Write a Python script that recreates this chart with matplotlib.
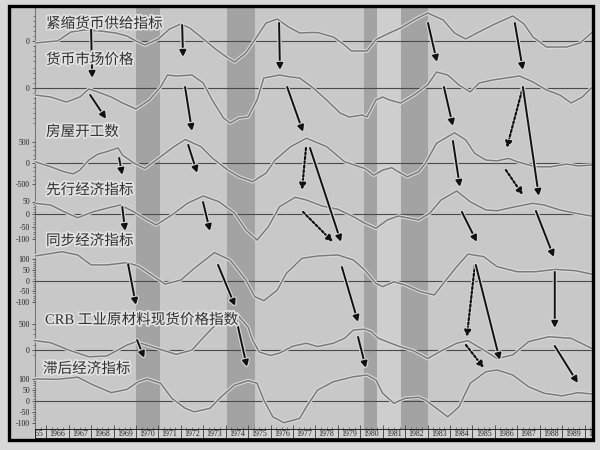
import matplotlib
matplotlib.use('Agg')
import numpy as np
import matplotlib.pyplot as plt
import matplotlib.patheffects as pe
from matplotlib.patches import ConnectionPatch, Rectangle
from matplotlib.ticker import FixedLocator, MultipleLocator

plt.rcParams['font.family'] = ['Liberation Serif', 'Noto Sans CJK SC', 'DejaVu Sans']

# ---- data ----
labels = ['紧缩货币供给指标', '货币市场价格', '房屋开工数', '先行经济指标',
          '同步经济指标', 'CRB 工业原材料现货价格指数', '滞后经济指标']

yrs_money = [1965.5, 1966.2, 1966.5, 1967.1, 1967.7, 1968.4, 1969.1, 1969.6, 1970.0, 1970.4,
             1971.0, 1971.5, 1972.0, 1972.4, 1972.9, 1973.6, 1974.1, 1974.4, 1974.9, 1975.2,
             1975.8, 1976.3, 1976.8, 1977.3, 1977.8, 1978.1, 1978.8, 1979.3, 1979.6, 1980.3,
             1980.7, 1981.3, 1981.8, 1982.4, 1983.0, 1983.7, 1984.2, 1984.7, 1985.2, 1986.0,
             1986.8, 1987.3, 1987.7, 1988.3, 1989.2, 1989.8, 1990.3]
money = [-2, -0.5, 0, 9, 11, 10, 8, 5, 0, -4, 2, 12, 17, 13, 4, -9, -17, -21, -12, -2,
         18, 22, 14, 8, 8.5, 8.5, 4, -4, -10, -10, 1.5, 8, 13, 21, 28, 21, 8, 2, 8, 17,
         25, 17, 4, -6, -6, -2, 8]

yrs_rate = [1965.5, 1966.2, 1966.9, 1967.5, 1967.9, 1968.3, 1968.9, 1969.4, 1970.0, 1970.6,
            1971.1, 1971.4, 1971.8, 1972.5, 1973.0, 1973.4, 1973.9, 1974.2, 1974.6, 1975.0,
            1975.4, 1975.7, 1976.4, 1976.9, 1977.3, 1977.9, 1978.5, 1979.1, 1979.5, 1980.1,
            1980.3, 1980.7, 1981.0, 1981.3, 1981.8, 1982.4, 1983.0, 1983.4, 1983.9, 1984.4,
            1984.9, 1985.3, 1985.9, 1986.5, 1987.1, 1987.7, 1988.3, 1988.9, 1989.4, 1989.9, 1990.3]
rate = [-7, -9, -14, -9, -1, -4, -9, -15, -21, -12, 1, 13, 12, 13, 5, -12, -30, -35, -30, -29,
        -12, 10, 13, 11, 10, 0, -12, -25, -29, -27, -29, -12, -9, -12, -15, -7, 3, 16, 13, 3,
        -4, 5, 8, 10, 12, 6, -2, -7, -15, -9, 0]

yrs_housing = [1965.5, 1966.2, 1966.8, 1967.2, 1967.5, 1967.9, 1968.3, 1968.7, 1969.2, 1969.4,
               1969.9, 1970.4, 1971.1, 1971.7, 1972.2, 1972.9, 1973.4, 1974.1, 1974.6, 1975.2,
               1975.8, 1976.2, 1976.9, 1977.6, 1978.5, 1979.3, 1980.2, 1980.6, 1981.0, 1981.4,
               1981.7, 1982.1, 1982.6, 1982.9, 1983.4, 1984.2, 1984.7, 1985.1, 1985.6, 1986.1,
               1986.6, 1987.0, 1987.8, 1988.5, 1989.2, 1989.7, 1990.3]
housing = [30, -90, -210, -260, -170, 70, 210, 270, 360, 190, 0, -130, 150, 390, 560, 390, 120,
           -170, -330, -445, -240, 70, 390, 590, 390, 30, -130, -290, -170, -110, -210, -330,
           -210, -10, 470, 720, 550, 230, 70, 50, 110, 30, -90, -90, -25, -70, -50]

yrs_leading = [1965.5, 1966.2, 1966.8, 1967.4, 1968.1, 1968.7, 1969.3, 1969.9, 1970.5, 1970.9,
               1971.6, 1972.3, 1973.0, 1973.7, 1974.4, 1974.9, 1975.4, 1975.9, 1976.4, 1977.1,
               1977.6, 1978.3, 1979.0, 1979.7, 1980.2, 1980.7, 1981.2, 1981.7, 1982.2, 1982.6,
               1983.1, 1983.6, 1984.3, 1984.9, 1985.6, 1986.1, 1986.8, 1987.7, 1988.2, 1988.9,
               1989.6, 1990.3]
leading = [43, 36, 9, -15, 9, 23, 36, 9, -24, -44, -4, 43, 72, 49, 3, -64, -104, -51, 29, 67,
           56, 32, 19, -11, -37, -57, -24, -8, -17, -24, 3, 56, 92, 49, 16, 13, 27, 43, 36, 16,
           3, -8]

yrs_coincident = [1965.5, 1966.7, 1967.4, 1968.0, 1968.7, 1969.6, 1970.1, 1970.8, 1971.3, 1972.0,
                  1972.6, 1973.5, 1974.2, 1974.9, 1975.3, 1975.7, 1976.3, 1976.7, 1977.4, 1978.1,
                  1979.0, 1979.7, 1980.2, 1980.7, 1981.0, 1981.5, 1982.0, 1982.7, 1983.3, 1983.7,
                  1984.3, 1984.8, 1985.5, 1986.1, 1987.0, 1987.8, 1988.7, 1989.6, 1990.3]
coincident = [116, 136, 121, 74, 74, 85, 69, 19, -16, 3, 58, 132, 97, 3, -75, -94, -44, 34, 105,
              116, 121, 97, 50, -13, -28, -5, -20, -52, -67, -13, 66, 125, 113, 66, 42, 42, 53,
              47, 31]

yrs_crb = [1965.5, 1966.2, 1967.0, 1967.9, 1968.7, 1969.6, 1970.0, 1970.8, 1971.8, 1972.5,
           1972.9, 1973.4, 1974.0, 1974.5, 1975.0, 1975.2, 1975.5, 1976.0, 1976.4, 1977.0,
           1977.6, 1978.1, 1978.8, 1979.3, 1979.7, 1980.2, 1980.5, 1980.8, 1981.7, 1982.4,
           1983.0, 1983.6, 1984.3, 1984.8, 1985.5, 1986.1, 1986.8, 1987.5, 1988.4, 1989.4, 1990.3]
crb = [180, 140, 0, -130, -115, 95, 160, 50, -85, 0, 190, 420, 615, 690, 440, 190, -40, -105,
       -60, 75, 130, 65, 130, 225, 385, 400, 350, 225, 75, -20, -165, -20, 130, 180, 0, -165,
       -95, 160, 255, 225, 35]

yrs_lagging = [1965.5, 1966.5, 1967.4, 1968.1, 1968.9, 1969.6, 1970.1, 1970.5, 1971.1, 1971.6,
               1972.2, 1972.6, 1973.3, 1973.8, 1974.4, 1975.0, 1975.4, 1975.7, 1976.1, 1976.6,
               1977.3, 1977.6, 1978.1, 1978.8, 1979.7, 1980.3, 1980.7, 1981.0, 1981.5, 1982.0,
               1982.6, 1982.9, 1983.4, 1983.9, 1984.4, 1984.9, 1985.6, 1986.1, 1986.8, 1987.5,
               1988.2, 1989.0, 1989.7, 1990.3]
lagging = [100, 98, 108, 72, 37, 52, 87, 100, 80, 11, -35, -51, -35, 18, 72, 92, 80, 3, -74,
           -101, -81, -28, 49, 87, 110, 118, 95, 34, -12, 11, 16, 3, -35, -74, -28, 80, 133,
           141, 118, 64, 34, 22, 37, 31]

series_years = [yrs_money, yrs_rate, yrs_housing, yrs_leading, yrs_coincident, yrs_crb, yrs_lagging]
series_vals = [money, rate, housing, leading, coincident, crb, lagging]

panel_ticks = [[0], [0], [500, 0, -500], [50, 0, -50, -100], [100, 50, 0, -50, -100],
               [500, 0], [100, 50, 0, -50, -100]]

recessions = [(1970.0, 1971.05), (1974.05, 1975.3), (1980.15, 1980.75), (1981.8, 1983.0)]
year_cells = list(range(1965, 1991))

# turning-point arrows: (panel, year, value) -> (panel, year, value), dotted
arrows = [
    (0, 1968.0, 12, 1, 1968.05, 10, False),
    (0, 1972.06, 16, 1, 1972.1, 31, False),
    (0, 1976.38, 18, 1, 1976.42, 18, False),
    (1, 1967.96, -7, 2, 1968.67, 1050, False),
    (1, 1972.19, 1, 2, 1972.5, 760, False),
    (1, 1976.74, 1, 2, 1977.45, 740, False),
    (2, 1969.25, 120, 3, 1969.39, 156, False),
    (2, 1972.33, 430, 3, 1972.73, 164, False),
    (3, 1969.39, 28, 4, 1969.52, 233, False),
    (3, 1972.99, 48, 4, 1973.3, 233, False),
    (0, 1983.02, 18, 1, 1983.42, 26, False),
    (0, 1986.89, 18, 1, 1987.25, 18, False),
    (1, 1983.73, 1, 2, 1984.13, 880, False),
    (1, 1987.25, 1, 2, 1986.53, 357, True),
    (1, 1987.25, 1, 3, 1987.96, 72, False),
    (2, 1984.13, 524, 3, 1984.44, 108, False),
    (2, 1986.49, -167, 3, 1987.25, 76, True),
    (3, 1987.83, 12, 4, 1988.63, 111, False),
    (3, 1984.53, 8, 4, 1985.2, 182, False),
    (2, 1977.58, 357, 3, 1977.4, 96, True),
    (2, 1977.76, 357, 4, 1979.14, 182, False),
    (3, 1977.45, 8, 4, 1978.78, 182, True),
    (4, 1969.65, 78, 5, 1970.0, 865, False),
    (4, 1973.66, 74, 5, 1974.42, 846, False),
    (5, 1974.49, 558, 6, 1974.95, 155, False),
    (4, 1979.18, 64, 5, 1979.9, 538, False),
    (5, 1979.9, 250, 6, 1980.25, 150, False),
    (4, 1985.11, 74, 5, 1984.75, 250, True),
    (4, 1985.15, 74, 5, 1986.22, -192, False),
    (4, 1988.67, 41, 5, 1988.67, 423, False),
    (5, 1988.67, 77, 6, 1989.7, 81, False),
    (5, 1984.71, 96, 6, 1985.51, 150, True),
    (5, 1970.05, 192, 6, 1970.37, 196, False),
]

# ---- layout (pixels of the 600x450 picture) ----
W, H = 600, 450
X0, X1 = 1965.5, 1990.33
LEFT, RIGHT, TOP, BOTTOM = 35, 592, 8, 429

# zero line (px) and px per unit of every panel
panel_layout = [(41, 1.0), (88, 1.0), (163, 0.042), (214, 0.25), (280.7, 0.213),
                (350, 0.052), (400.7, 0.218)]
minor_ranges = [(-20, 25, 5), (-35, 20, 5), (-500, 500, 100), (-100, 50, 10),
                (-100, 100, 10), (-100, 500, 100), (-100, 100, 10)]
label_pos = [(46, 24), (46, 60), (46, 132), (46, 190), (46, 241), (45, 320), (43, 369)]


def px_rect(l, t, r, b):
    return [l / W, 1 - b / H, (r - l) / W, (b - t) / H]


fig = plt.figure(figsize=(6, 4.5), dpi=100, facecolor='#d8d8d8')
fig.add_artist(Rectangle((9 / W, 1 - 440 / H), (593 - 9) / W, (440 - 6) / H,
                         transform=fig.transFigure, facecolor='#c8c8c8',
                         edgecolor='none', zorder=-1))
fig.add_artist(Rectangle((9 / W, 1 - 440 / H), (593 - 9) / W, (440 - 6) / H,
                         transform=fig.transFigure, facecolor='none',
                         edgecolor='black', lw=2.4, zorder=6))

# background with recession bands
bg = fig.add_axes(px_rect(LEFT, TOP, RIGHT, BOTTOM))
bg.set_facecolor('#c8c8c8')
bg.set_xlim(X0, X1)
bg.set_ylim(0, 1)
for a, b in recessions:
    bg.axvspan(a, b, color='#a3a3a3', lw=0)
bg.axvspan(recessions[2][1], recessions[3][0], color='#cecece', lw=0)
for s in ['top', 'right', 'bottom']:
    bg.spines[s].set_visible(False)
bg.spines['left'].set_color('#777777')
bg.spines['left'].set_linewidth(0.8)
bg.set_yticks([])
bg.xaxis.set_major_locator(MultipleLocator(1))
bg.xaxis.set_minor_locator(MultipleLocator(0.25))
bg.tick_params(axis='x', which='major', direction='in', length=3, width=0.6,
               color='#444444', labelbottom=False)
bg.tick_params(axis='x', which='minor', direction='in', length=1.5, width=0.5, color='#555555')

# one axes per indicator, all on the same plot area
axes = []
for k, (zero, scale) in enumerate(panel_layout):
    ax = fig.add_axes(px_rect(LEFT, TOP, RIGHT, BOTTOM), facecolor='none')
    ax.set_xlim(X0, X1)
    ax.set_ylim((zero - BOTTOM) / scale, (zero - TOP) / scale)
    ax.axhline(0, color='#4a4a4a', lw=0.8)
    ax.plot(series_years[k], series_vals[k], color='#7a7a7a', lw=1.1,
            path_effects=[pe.Stroke(linewidth=2.6, foreground='#dcdcdc'), pe.Normal()])
    ax.set_xticks([])
    ax.set_yticks(panel_ticks[k])
    ax.set_yticklabels([str(t) for t in panel_ticks[k]], fontsize=5.6)
    lo, hi, step = minor_ranges[k]
    ax.yaxis.set_minor_locator(FixedLocator(np.arange(lo, hi + step / 2, step)))
    ax.tick_params(axis='y', which='major', length=2.5, width=0.6, color='#444444',
                   pad=1.2, labelcolor='#222222')
    ax.tick_params(axis='y', which='minor', length=1.5, width=0.5, color='#555555')
    for s in ax.spines.values():
        s.set_visible(False)
    axes.append(ax)

# year row
yr = fig.add_axes(px_rect(LEFT, BOTTOM, RIGHT, 438), facecolor='#d2d2d2')
yr.set_xlim(X0, X1)
yr.set_ylim(0, 1)
yr.set_xticks([])
yr.set_yticks([])
for s in yr.spines.values():
    s.set_color('#222222')
    s.set_linewidth(0.7)
for y in year_cells:
    yr.axvline(y, color='#333333', lw=0.6)
    yr.text(y + 0.5, 0.45, str(y), ha='center', va='center', fontsize=5.7,
            color='#222222', clip_on=True)

# indicator names
for txt, (x, y) in zip(labels, label_pos):
    fig.text(x / W, 1 - y / H, txt, fontsize=10.5, ha='left', va='center', color='#303030',
             zorder=5, path_effects=[pe.withStroke(linewidth=2.5, foreground='#e2e2e2')])

# arrows linking turning points
for pa, ya, va, pb, yb, vb, dotted in arrows:
    con = ConnectionPatch(xyA=(ya, va), coordsA=axes[pa].transData,
                          xyB=(yb, vb), coordsB=axes[pb].transData,
                          arrowstyle='-|>', mutation_scale=9,
                          lw=1.6 if dotted else 1.4,
                          linestyle=(0, (1, 1)) if dotted else '-',
                          color='#111111', shrinkA=0, shrinkB=0, zorder=4,
                          path_effects=[pe.withStroke(linewidth=3, foreground='#d6d6d6')])
    fig.add_artist(con)

fig.savefig('out.png', dpi=100, facecolor=fig.get_facecolor())
